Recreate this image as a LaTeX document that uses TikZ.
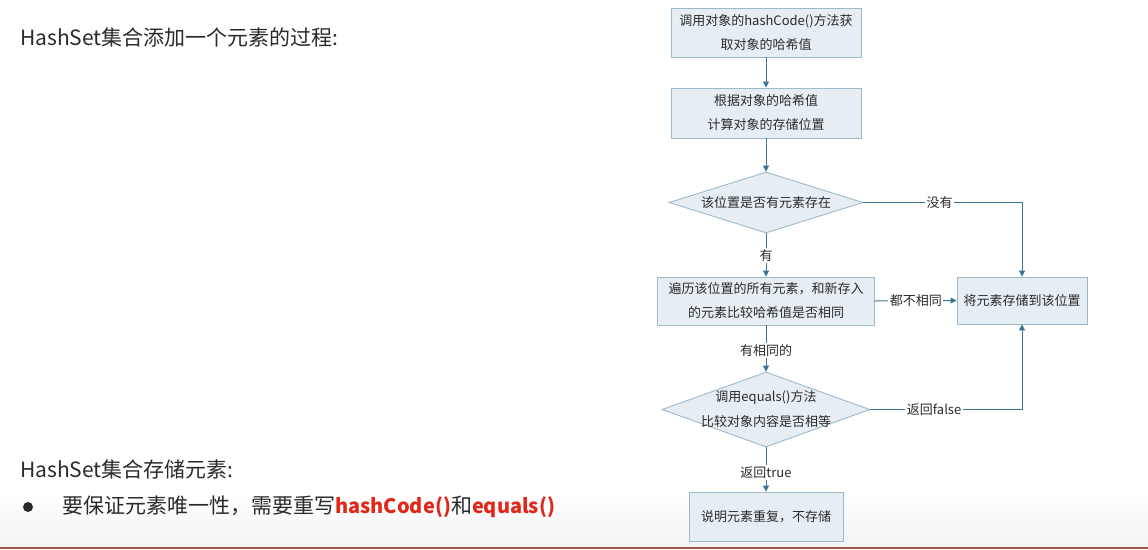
\documentclass[tikz,border=0pt]{standalone}
\usepackage{fontspec}
\setmainfont{Noto Sans CJK SC}
\usetikzlibrary{shapes.geometric,arrows.meta}
\definecolor{boxfill}{HTML}{E6EEF4}
\definecolor{boxline}{HTML}{9DBACD}
\definecolor{arrowc}{HTML}{3A7593}
\definecolor{redc}{HTML}{E0271A}
\definecolor{txt}{HTML}{2B2B2B}
\definecolor{bline}{HTML}{A0564C}
\begin{document}
\begin{tikzpicture}[x=1pt,y=-1pt,
  fbox/.style={draw=boxline, fill=boxfill, line width=0.9pt, align=center, inner sep=0pt,
    font=\fontsize{13}{24}\selectfont, text=txt},
  fdia/.style={diamond, draw=boxline, fill=boxfill, line width=0.9pt, inner sep=0pt},
  dtext/.style={align=center, inner sep=0pt, font=\fontsize{13}{25}\selectfont, text=txt},
  conn/.style={draw=arrowc, line width=1pt, -{Triangle[length=6pt,width=6pt]}},
  lab/.style={fill=white, inner sep=1.5pt, font=\fontsize{13}{15}\selectfont, text=txt},
  big/.style={anchor=west, inner sep=0pt, font=\fontsize{21}{24}\selectfont, text=txt}]
\useasboundingbox (0,0) rectangle (1148,549);
\fill[white] (0,0) rectangle (1148,549);
\shade[top color=white, bottom color=black!5] (0,495) rectangle (1148,546.5);
\fill[bline] (0,546.5) rectangle (1148,549);

% left texts
\node[big] (title) at (20,37) {HashSet集合添加一个元素的过程:};
\node[big] (title2) at (20,469) {HashSet集合存储元素:};
\node[circle, fill=txt, inner sep=0pt, minimum size=10pt] (dot) at (28,507) {};
\node[big] (bul) at (62,507) {要保证元素唯一性，需要重写\textcolor{redc}{\fontsize{20}{24}\selectfont\bfseries hashCode()}和\textcolor{redc}{\fontsize{20}{24}\selectfont\bfseries equals()}};

% flowchart
\node[fbox, minimum width=190pt, minimum height=49pt] (b1) at (766,32.5) {调用对象的hashCode()方法获\\取对象的哈希值};
\node[fbox, minimum width=190pt, minimum height=50pt] (b2) at (766,113) {根据对象的哈希值\\计算对象的存储位置};
\node[fdia, minimum width=194pt, minimum height=61pt] (d1) at (766,202.5) {};
\node[dtext] (d1t) at (d1.center) {该位置是否有元素存在};
\node[fbox, minimum width=217pt, minimum height=48pt] (b3) at (766,301) {遍历该位置的所有元素，和新存入\\的元素比较哈希值是否相同};
\node[fbox, minimum width=130pt, minimum height=47pt] (b4) at (1022,300.5) {将元素存储到该位置};
\node[fdia, minimum width=208pt, minimum height=75pt] (d2) at (766,409.5) {};
\node[dtext] (d2t) at (d2.center) {调用equals()方法\\比较对象内容是否相等};
\node[fbox, minimum width=154pt, minimum height=49pt] (b5) at (766,516.5) {说明元素重复，不存储};

\draw[conn] (b1.south) -- (b2.north);
\draw[conn] (b2.south) -- (d1.north);
\draw[conn] (d1.south) -- node[lab, pos=0.52] (l1) {有} (b3.north);
\draw[conn] (d1.east) -| node[lab, pos=0.24] (l2) {没有} (b4.north);
\draw[conn] (b3.east) -- node[lab] (l3) {都不相同} (b4.west);
\draw[conn] (b3.south) -- node[lab, pos=0.55] (l4) {有相同的} (d2.north);
\draw[conn] (d2.east) -| node[lab, pos=0.21] (l5) {返回false} (b4.south);
\draw[conn] (d2.south) -- node[lab, pos=0.57] (l6) {返回true} (b5.north);
\end{tikzpicture}
\end{document}
